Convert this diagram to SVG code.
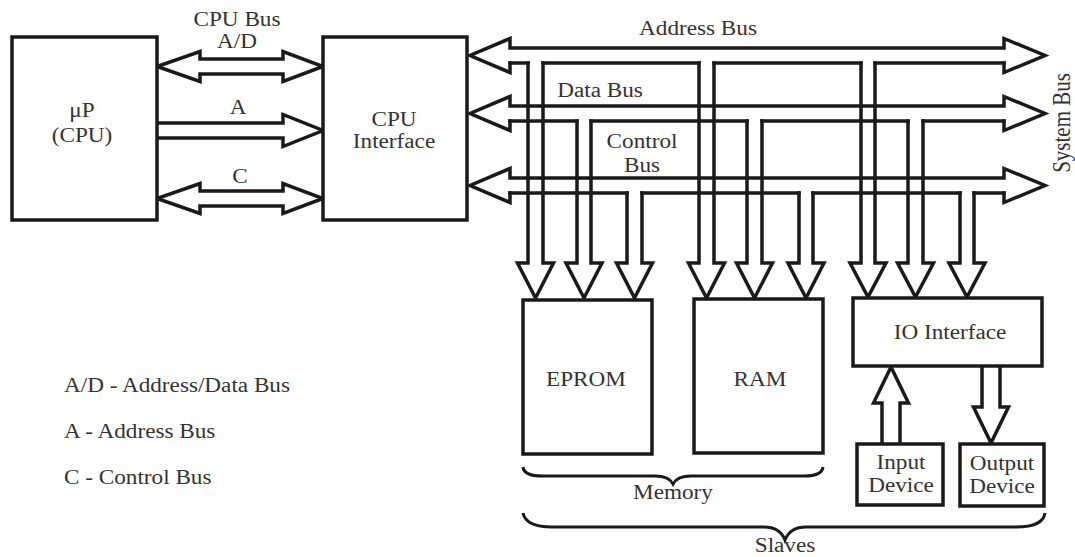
<svg xmlns="http://www.w3.org/2000/svg" width="1075" height="557" viewBox="0 0 1075 557">
<style>
.ln{fill:none;stroke:#1a1a1a;stroke-width:3.5;stroke-linejoin:miter;stroke-linecap:square}
.box{fill:#fff;stroke:#1a1a1a;stroke-width:3.5}
.br{fill:none;stroke:#1a1a1a;stroke-width:3}
text{font-family:"Liberation Serif","Times New Roman",serif;font-size:20px;fill:#333}
.c{text-anchor:middle}
</style>
<rect width="1075" height="557" fill="#fff"/>

<g id="connectors">
  <!-- CPU side buses -->
  <path class="ln" d="M200 59H283V51.5L323 66.5L283 81.5V74H200V81.5L157 66.5L200 51.5Z"/>
  <path class="ln" d="M157 123H283V114.5L323 130.5L283 146.5V138H157"/>
  <path class="ln" d="M200 191H283V183.5L323 198.5L283 213.5V206H200V213.5L157 198.5L200 183.5Z"/>

  <!-- Address bus -->
  <path class="ln" d="M510 48H1004V38.5L1045 55.5L1004 72.5V63M510 48V38.5L470 55.5L510 72.5V63"/>
  <path class="ln" d="M510 63H528M543 63H699M714 63H861M875 63H1004"/>
  <!-- Data bus -->
  <path class="ln" d="M510 106H1004V96.5L1045 113.5L1004 130.5V121M510 106V96.5L470 113.5L510 130.5V121"/>
  <path class="ln" d="M510 121H577M591 121H747M762 121H908M923 121H1004"/>
  <!-- Control bus -->
  <path class="ln" d="M510 178H1004V168.5L1045 185.5L1004 202.5V193M510 178V168.5L470 185.5L510 202.5V193"/>
  <path class="ln" d="M510 193H627M642 193H799M813 193H960M974 193H1004"/>

  <!-- Drops to EPROM -->
  <path class="ln" d="M528 63V263H517.5L535.5 298L553.5 263H543V63"/>
  <path class="ln" d="M577 121V263H566L584 298L602 263H591V121"/>
  <path class="ln" d="M627 193V263H616.5L634.5 298L652.5 263H642V193"/>
  <!-- Drops to RAM -->
  <path class="ln" d="M699 63V263H688.5L706.5 298L724.5 263H714V63"/>
  <path class="ln" d="M747 121V263H736.5L754.5 298L772.5 263H762V121"/>
  <path class="ln" d="M799 193V263H788L806 298L824 263H813V193"/>
  <!-- Drops to IO Interface -->
  <path class="ln" d="M861 63V263H850L868 297L886 263H875V63"/>
  <path class="ln" d="M908 121V263H897.5L915.5 297L933.5 263H923V121"/>
  <path class="ln" d="M960 193V263H949L967 297L985 263H974V193"/>

  <!-- IO device arrows -->
  <path class="ln" d="M882 444V403H873.5L891 367L908.5 403H900V444"/>
  <path class="ln" d="M982 367V407H973.5L991 443L1008.5 407H1000V367"/>

  <!-- Braces -->
  <path class="br" d="M523 467Q524 476 542 476H655Q669 476 673 484Q677 476 691 476H804Q822 476 823 467"/>
  <path class="br" d="M523 513Q526 527 552 527H764Q780 527 785 540Q790 527 806 527H1016Q1043 527 1045 513"/>
</g>

<g id="cpu">
  <rect class="box" x="12" y="37" width="145" height="183"/>
  <text class="c" transform="translate(82 117) scale(1.16 1)">μP</text>
  <text class="c" transform="translate(82 142) scale(1.16 1)">(CPU)</text>
</g>
<g id="cpu-interface">
  <rect class="box" x="323" y="37" width="144" height="183"/>
  <text class="c" transform="translate(394 126) scale(1.16 1)">CPU</text>
  <text class="c" transform="translate(394 148) scale(1.16 1)">Interface</text>
</g>
<g id="eprom">
  <rect class="box" x="523" y="300" width="129" height="154"/>
  <text class="c" transform="translate(586 386) scale(1.16 1)">EPROM</text>
</g>
<g id="ram">
  <rect class="box" x="694" y="299" width="129" height="154"/>
  <text class="c" transform="translate(760 386) scale(1.16 1)">RAM</text>
</g>
<g id="io-interface">
  <rect class="box" x="853" y="298" width="189" height="68"/>
  <text class="c" transform="translate(950 339) scale(1.16 1)">IO Interface</text>
</g>
<g id="input-device">
  <rect class="box" x="857" y="444" width="86" height="61"/>
  <text class="c" transform="translate(901 469) scale(1.16 1)">Input</text>
  <text class="c" transform="translate(901 492) scale(1.16 1)">Device</text>
</g>
<g id="output-device">
  <rect class="box" x="960" y="444" width="84" height="62"/>
  <text class="c" transform="translate(1002 470) scale(1.16 1)">Output</text>
  <text class="c" transform="translate(1002 493) scale(1.16 1)">Device</text>
</g>

<g id="labels">
  <text class="c" transform="translate(237 26) scale(1.16 1)">CPU Bus</text>
  <text class="c" transform="translate(237 48) scale(1.16 1)">A/D</text>
  <text class="c" transform="translate(238 114) scale(1.16 1)">A</text>
  <text class="c" transform="translate(240 183) scale(1.16 1)">C</text>
  <text class="c" transform="translate(698 35) scale(1.16 1)">Address Bus</text>
  <text class="c" transform="translate(600 97) scale(1.16 1)">Data Bus</text>
  <text class="c" transform="translate(642 148) scale(1.16 1)">Control</text>
  <text class="c" transform="translate(642 172) scale(1.16 1)">Bus</text>
  <text class="c" transform="translate(1070 123) rotate(-90) scale(1 1.16)" style="font-size:21px">System Bus</text>
  <text class="c" transform="translate(673 499) scale(1.16 1)">Memory</text>
  <text class="c" transform="translate(785 552) scale(1.16 1)">Slaves</text>
</g>

<g id="legend">
  <text transform="translate(64 392) scale(1.16 1)">A/D - Address/Data Bus</text>
  <text transform="translate(64 438) scale(1.16 1)">A - Address Bus</text>
  <text transform="translate(64 484) scale(1.16 1)">C - Control Bus</text>
</g>
</svg>
